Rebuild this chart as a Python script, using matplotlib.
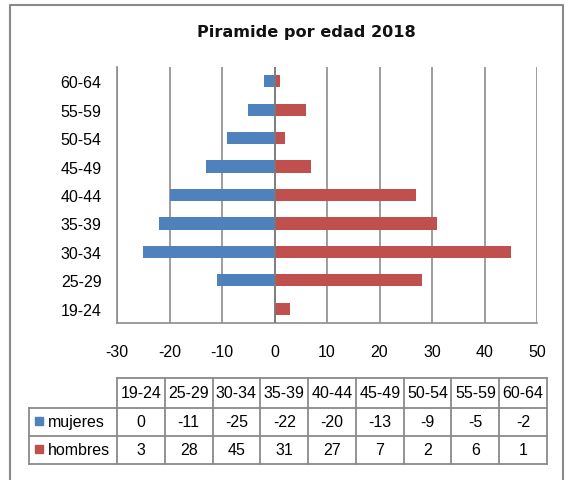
import matplotlib
matplotlib.use("Agg")
import matplotlib.pyplot as plt
import numpy as np
from matplotlib.patches import Rectangle

categories = ["19-24", "25-29", "30-34", "35-39", "40-44", "45-49", "50-54", "55-59", "60-64"]
mujeres = [0, -11, -25, -22, -20, -13, -9, -5, -2]
hombres = [3, 28, 45, 31, 27, 7, 2, 6, 1]
series_names = ["mujeres", "hombres"]
xticks = [-30, -20, -10, 0, 10, 20, 30, 40, 50]

BLUE = "#4F81BD"
RED = "#C0504D"
GRID = "#8C8C8C"

plt.rcParams['font.family'] = ['Liberation Sans', 'DejaVu Sans']

W, H = 565, 481
fig = plt.figure(figsize=(W / 100, H / 100), dpi=100)

def rect(l, t, r, b):
    return [l / W, 1 - b / H, (r - l) / W, (b - t) / H]

FS = 11.5
ax = fig.add_axes(rect(117, 68, 537, 324))
y = np.arange(len(categories))
ax.barh(y, mujeres, height=0.43, color=BLUE, zorder=3)
ax.barh(y, hombres, height=0.43, color=RED, zorder=3)
ax.set_xlim(xticks[0], xticks[-1])
ax.set_ylim(-0.5, len(categories) - 0.5)
ax.set_xticks(xticks)
ax.set_xticklabels([str(v) for v in xticks], fontsize=FS)
ax.set_yticks(y)
ax.set_yticklabels(categories, fontsize=FS)
ax.tick_params(axis='x', length=0, pad=15)
ax.tick_params(axis='y', length=0, pad=11)
ax.grid(axis='x', color=GRID, lw=1.2, zorder=1)
ax.axvline(0, color="#7a7a7a", lw=1.2, zorder=4)
for s in ['top', 'right']:
    ax.spines[s].set_visible(False)
for s in ['left', 'bottom']:
    ax.spines[s].set_color(GRID)
    ax.spines[s].set_linewidth(1.2)

# Overlay for title, outer frame and data table
ov = fig.add_axes([0, 0, 1, 1])
ov.set_xlim(0, W)
ov.set_ylim(H, 0)
ov.axis('off')
ov.patch.set_visible(False)

ov.text(306, 33, "Piramide por edad 2018", ha='center', va='center',
        fontsize=11.6, fontweight='bold', color='#111111', family=['DejaVu Sans'])

# outer chart frame
ov.plot([10, 10, 563, 563], [H + 5, 6, 6, H + 5], color="#8a8a8a", lw=1.5, clip_on=False)

# data table
n = len(categories)
x0, x1 = 117, 547
lx = 29
cw = (x1 - x0) / n
rows_y = [379, 409, 437, 465]
tc = "#8a8a8a"
lw = 1.3
ov.plot([x0, x1], [rows_y[0]] * 2, color=tc, lw=lw)
for yy in rows_y[1:]:
    ov.plot([lx, x1], [yy] * 2, color=tc, lw=lw)
for i in range(n + 1):
    ov.plot([x0 + i * cw] * 2, [rows_y[0], rows_y[-1]], color=tc, lw=lw)
ov.plot([lx, lx], [rows_y[1], rows_y[-1]], color=tc, lw=lw)

for i, c in enumerate(categories):
    cx = x0 + (i + 0.5) * cw
    ov.text(cx, (rows_y[0] + rows_y[1]) / 2, c, ha='center', va='center', fontsize=FS)
    ov.text(cx, (rows_y[1] + rows_y[2]) / 2, str(mujeres[i]), ha='center', va='center', fontsize=FS)
    ov.text(cx, (rows_y[2] + rows_y[3]) / 2, str(hombres[i]), ha='center', va='center', fontsize=FS)

for k, (name, col) in enumerate(zip(series_names, [BLUE, RED])):
    cy = (rows_y[k + 1] + rows_y[k + 2]) / 2
    ov.add_patch(Rectangle((35, cy - 5), 8, 8, color=col))
    ov.text(48, cy, name, ha='left', va='center', fontsize=FS)

fig.savefig("out.png", dpi=100)
